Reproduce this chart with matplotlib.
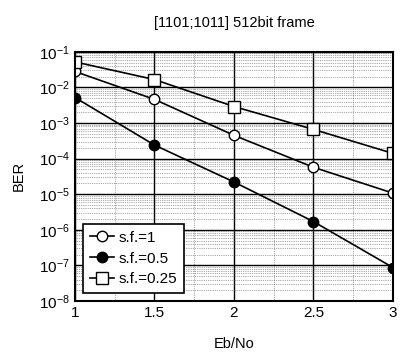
import matplotlib
matplotlib.use("Agg")
import matplotlib.pyplot as plt
import numpy as np

ebno = [1, 1.5, 2, 2.5, 3]
ber_sf1 = [2.8e-2, 4.6e-3, 4.5e-4, 5.7e-5, 1.07e-5]
ber_sf05 = [5.2e-3, 2.4e-4, 2.2e-5, 1.7e-6, 8.7e-8]
ber_sf025 = [5.2e-2, 1.66e-2, 2.9e-3, 6.6e-4, 1.4e-4]
labels = ["s.f.=1", "s.f.=0.5", "s.f.=0.25"]
title = "[1101;1011] 512bit frame"

plt.rcParams['font.family'] = ['Liberation Sans', 'DejaVu Sans']
fig = plt.figure(figsize=(4.01, 3.56), dpi=100)
ax = fig.add_axes([0.187, 0.1545, 0.793, 0.70])

ax.plot(ebno, ber_sf1, '-o', color='black', mfc='white', mec='black', ms=7.5, lw=1.2, label=labels[0])
ax.plot(ebno, ber_sf05, '-o', color='black', mfc='black', mec='black', ms=7.5, lw=1.2, label=labels[1])
ax.plot(ebno, ber_sf025, '-s', color='black', mfc='white', mec='black', ms=8, lw=1.2, label=labels[2])

ax.set_yscale('log')
ax.set_xlim(1, 3)
ax.set_ylim(1e-8, 1e-1)
ax.set_xticks([1, 1.5, 2, 2.5, 3])
ax.set_xticklabels(["1", "1.5", "2", "2.5", "3"])
ax.set_xticks(np.arange(1, 3.01, 0.25), minor=True)
ax.set_yticks([10.0**(-k) for k in range(1, 9)])
ax.grid(True, which='major', color='black', lw=1.0, ls='-')
ax.grid(True, which='minor', color='#555555', lw=0.5, ls=':')
for s in ax.spines.values():
    s.set_linewidth(1.5)
ax.tick_params(which='both', direction='in', labelsize=11, length=0)
ax.set_title(title, fontsize=10.5, pad=18)
ax.set_xlabel("Eb/No", fontsize=10.5, labelpad=12)
ax.set_ylabel("BER", fontsize=10.5, labelpad=10)
leg = ax.legend(loc='lower left', fontsize=11, fancybox=False, framealpha=1,
                edgecolor='black', handlelength=1.6, handletextpad=0.3,
                borderpad=0.45, labelspacing=0.45, borderaxespad=0.5)
leg.get_frame().set_linewidth(1.2)
fig.savefig("out.png", dpi=100)
